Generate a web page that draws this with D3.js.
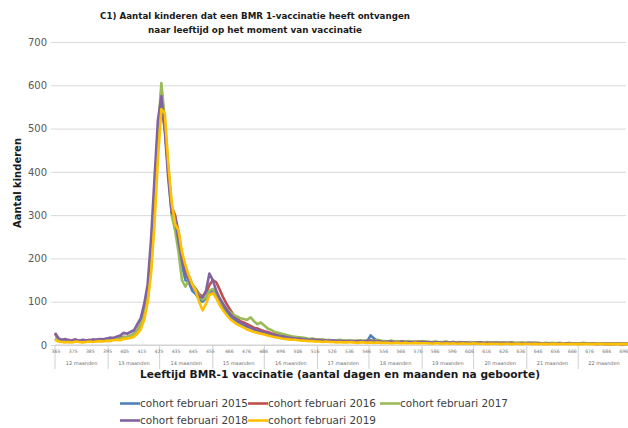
<!DOCTYPE html>
<html>
<head>
<meta charset="utf-8">
<script src="https://cdn.jsdelivr.net/npm/d3@7"></script>
<style>
  body { margin: 0; background: #fff; }
  svg { display: block; }
  text { font-family: Verdana, "DejaVu Sans", sans-serif; }
</style>
</head>
<body>
<div class="canvas"></div>
<script>
// days since birth, every 2 days (365 .. 699)
const days = d3.range(365, 700, 2);

const cohort2015 = [
  14, 10, 8, 9, 7, 8, 10, 9, 8, 10, 9, 11,
  10, 12, 11, 13, 12, 14, 15, 17, 16, 18, 20, 24,
  32, 45, 68, 105, 180, 310, 470, 592, 510, 400, 310, 270,
  230, 185, 150, 145, 125, 118, 105, 100, 108, 120, 125, 110,
  98, 85, 75, 66, 58, 55, 50, 46, 42, 40, 36, 33,
  31, 28, 26, 25, 22, 20, 19, 18, 16, 15, 15, 14,
  13, 12, 12, 11, 10, 11, 10, 9, 10, 9, 8, 9,
  8, 9, 8, 7, 8, 8, 10, 9, 22, 15, 9, 8,
  7, 8, 7, 7, 6, 7, 8, 6, 7, 6, 6, 7,
  6, 5, 6, 6, 5, 6, 7, 5, 5, 6, 5, 5,
  5, 6, 4, 5, 5, 4, 5, 6, 4, 5, 4, 4,
  5, 4, 4, 5, 3, 4, 4, 5, 4, 3, 4, 4,
  3, 4, 4, 3, 4, 3, 3, 4, 3, 3, 4, 3,
  3, 3, 4, 3, 2, 3, 3, 2, 3, 3, 2, 3
];
const cohort2016 = [
  26, 14, 11, 10, 12, 9, 8, 11, 10, 9, 12, 10,
  11, 13, 12, 12, 14, 16, 14, 17, 19, 18, 21, 26,
  35, 50, 72, 110, 190, 320, 480, 555, 500, 410, 320, 300,
  260, 210, 175, 160, 140, 130, 118, 112, 120, 138, 150, 145,
  128, 110, 95, 82, 70, 62, 55, 52, 48, 44, 40, 38,
  35, 32, 30, 27, 25, 23, 21, 20, 19, 17, 16, 15,
  15, 14, 13, 12, 13, 11, 12, 10, 11, 10, 9, 10,
  9, 10, 9, 8, 10, 9, 8, 9, 11, 9, 8, 9,
  8, 7, 9, 8, 7, 8, 7, 8, 6, 7, 8, 6,
  7, 6, 6, 7, 5, 6, 6, 5, 7, 5, 6, 5,
  5, 6, 5, 4, 6, 5, 4, 5, 5, 4, 5, 5,
  4, 5, 4, 4, 5, 3, 4, 4, 5, 4, 3, 4,
  4, 3, 4, 4, 3, 4, 3, 3, 4, 3, 4, 3,
  3, 4, 3, 3, 3, 2, 3, 3, 3, 2, 3, 3
];
const cohort2017 = [
  15, 11, 9, 8, 9, 10, 8, 9, 11, 8, 10, 9,
  12, 11, 13, 12, 13, 15, 16, 15, 18, 19, 22, 25,
  34, 48, 70, 108, 185, 315, 490, 605, 520, 405, 300, 265,
  215, 150, 135, 150, 140, 128, 115, 105, 110, 125, 130, 120,
  105, 92, 84, 76, 70, 66, 62, 60, 58, 64, 55, 48,
  52, 45, 38, 35, 30, 28, 26, 24, 22, 20, 19, 18,
  17, 16, 14, 15, 13, 12, 13, 11, 12, 10, 11, 12,
  10, 11, 9, 10, 9, 11, 10, 9, 10, 9, 12, 10,
  9, 8, 10, 8, 9, 7, 8, 9, 7, 8, 7, 9,
  8, 7, 7, 8, 6, 7, 8, 6, 7, 6, 7, 6,
  6, 7, 5, 6, 6, 5, 7, 5, 6, 5, 6, 5,
  5, 6, 5, 4, 6, 5, 5, 4, 5, 5, 4, 5,
  4, 5, 4, 5, 4, 4, 5, 3, 4, 4, 5, 4,
  4, 3, 4, 4, 3, 4, 3, 4, 3, 3, 4, 3
];
const cohort2018 = [
  28, 16, 12, 14, 10, 11, 13, 9, 12, 11, 10, 13,
  12, 14, 13, 15, 17, 16, 19, 22, 28, 26, 30, 34,
  48, 62, 95, 140, 245, 385, 520, 575, 495, 385, 305, 295,
  240, 195, 165, 150, 135, 125, 112, 110, 125, 165, 150, 125,
  108, 95, 82, 72, 64, 58, 52, 48, 44, 40, 37, 34,
  32, 29, 27, 25, 23, 21, 20, 19, 17, 16, 15, 15,
  14, 13, 12, 13, 11, 12, 10, 11, 10, 11, 9, 10,
  9, 8, 10, 9, 8, 9, 8, 10, 9, 8, 9, 8,
  7, 8, 8, 7, 6, 8, 7, 6, 7, 7, 6, 7,
  6, 7, 5, 6, 6, 5, 6, 5, 6, 5, 5, 6,
  5, 4, 5, 5, 6, 4, 5, 4, 5, 5, 4, 5,
  4, 5, 4, 3, 4, 4, 5, 4, 3, 4, 4, 3,
  4, 3, 3, 4, 3, 4, 3, 4, 3, 3, 3, 4,
  3, 3, 2, 3, 3, 3, 2, 3, 3, 2, 3, 2
];
const cohort2019 = [
  12, 8, 7, 6, 7, 6, 8, 7, 6, 7, 8, 7,
  8, 9, 8, 10, 9, 11, 12, 11, 14, 15, 16, 19,
  26, 36, 58, 98, 165, 280, 430, 545, 535, 420, 330, 280,
  265, 215, 185, 160, 140, 125, 100, 80, 95, 115, 120, 108,
  92, 80, 70, 60, 54, 48, 44, 40, 36, 33, 30, 28,
  26, 24, 22, 20, 18, 17, 15, 14, 13, 12, 12, 11,
  10, 10, 9, 9, 8, 8, 7, 8, 7, 7, 6, 7,
  6, 6, 7, 6, 5, 6, 6, 5, 6, 5, 6, 5,
  5, 5, 4, 5, 5, 4, 5, 4, 4, 5, 4, 4,
  4, 4, 3, 4, 4, 3, 4, 3, 4, 3, 3, 4,
  3, 3, 4, 3, 3, 3, 2, 3, 3, 3, 2, 3,
  3, 2, 3, 3, 2, 3, 3, 2, 3, 2, 3, 2,
  2, 3, 2, 2, 3, 2, 2, 3, 2, 2, 2, 3,
  2, 2, 2, 3, 2, 2, 2, 2, 2, 2, 2, 2
];

const seriesNames = ["cohort februari 2015", "cohort februari 2016", "cohort februari 2017",
                     "cohort februari 2018", "cohort februari 2019"];
const seriesValues = [cohort2015, cohort2016, cohort2017, cohort2018, cohort2019];
const colors = ["#4f81bd", "#c0504d", "#9bbb59", "#8064a2", "#ffc000"];

const yTicks = [0, 100, 200, 300, 400, 500, 600, 700];
const tickDays = [365, 375, 385, 395, 405, 415, 425, 435, 445, 455, 466, 476, 486, 496, 506, 516,
                  526, 536, 546, 556, 566, 576, 586, 596, 606, 616, 626, 636, 646, 656, 666,
                  676, 686, 696];
const monthStarts = [365, 396, 426, 457, 487, 518, 548, 579, 609, 640, 670, 700];
const monthLabels = ["12 maanden", "13 maanden", "14 maanden", "15 maanden", "16 maanden",
                     "17 maanden", "18 maanden", "19 maanden", "20 maanden", "21 maanden",
                     "22 maanden"];

const width = 628, height = 428;
const margin = { left: 55, right: 0, top: 42, bottom: 83 };

const svg = d3.select(".canvas").append("svg")
  .attr("width", width)
  .attr("height", height);

const x = d3.scaleLinear().domain([365, 699]).range([margin.left, width - margin.right]);
const y = d3.scaleLinear().domain([0, 700]).range([height - margin.bottom, margin.top]);

// title
const title = svg.append("g").attr("font-weight", "bold").attr("font-size", 9.5)
  .attr("fill", "#1a1a1a").attr("text-anchor", "middle");
title.append("text").attr("x", 255).attr("y", 19)
  .attr("textLength", 310).attr("lengthAdjust", "spacingAndGlyphs")
  .text("C1) Aantal kinderen dat een BMR 1-vaccinatie heeft ontvangen");
title.append("text").attr("x", 255).attr("y", 33)
  .attr("textLength", 214).attr("lengthAdjust", "spacingAndGlyphs")
  .text("naar leeftijd op het moment van vaccinatie");

// gridlines + y labels
const yAxis = d3.axisLeft(y).tickValues(yTicks).tickSize(-(width - margin.left - margin.right - 2))
  .tickPadding(8);
const yAxisGroup = svg.append("g").attr("transform", `translate(${margin.left},0)`).call(yAxis);
yAxisGroup.select(".domain").remove();
yAxisGroup.selectAll(".tick line").attr("stroke", "#d9d9d9").attr("x1", -4);
yAxisGroup.selectAll(".tick text").attr("fill", "#595959").attr("font-size", 10)
  .attr("font-family", "Verdana, 'DejaVu Sans', sans-serif");

svg.append("text")
  .attr("transform", `translate(21,183) rotate(-90)`)
  .attr("text-anchor", "middle").attr("font-weight", "bold").attr("font-size", 10)
  .attr("fill", "#1a1a1a")
  .text("Aantal kinderen");

// category axis: day ticks and month groups
const catAxis = svg.append("g");
catAxis.append("line")
  .attr("x1", margin.left).attr("x2", width)
  .attr("y1", y(0)).attr("y2", y(0))
  .attr("stroke", "#d0d0d0");
catAxis.selectAll(".month-line").data(monthStarts).join("line")
  .attr("class", "month-line")
  .attr("x1", (d) => x(d)).attr("x2", (d) => x(d))
  .attr("y1", y(0)).attr("y2", y(0) + 24)
  .attr("stroke", "#d0d0d0");
catAxis.selectAll(".day-label").data(tickDays).join("text")
  .attr("class", "day-label")
  .attr("x", (d) => x(d) + 1).attr("y", y(0) + 8)
  .attr("text-anchor", "middle").attr("font-size", 4.6).attr("fill", "#707070")
  .text((d) => d);
catAxis.selectAll(".month-label").data(monthLabels).join("text")
  .attr("class", "month-label")
  .attr("x", (d, i) => (x(monthStarts[i]) + x(monthStarts[i + 1])) / 2)
  .attr("y", y(0) + 20)
  .attr("text-anchor", "middle").attr("font-size", 5).attr("fill", "#707070")
  .text((d) => d);

svg.append("text")
  .attr("x", 340).attr("y", 378)
  .attr("text-anchor", "middle").attr("font-weight", "bold").attr("font-size", 11)
  .attr("textLength", 400).attr("lengthAdjust", "spacingAndGlyphs")
  .attr("fill", "#1a1a1a")
  .text("Leeftijd BMR-1 vaccinatie  (aantal dagen en maanden na geboorte)");

// lines
const lineGen = d3.line()
  .x((d, i) => x(days[i]))
  .y((d) => y(d));

svg.append("g").selectAll("path").data(seriesValues).join("path")
  .attr("d", lineGen)
  .attr("fill", "none")
  .attr("stroke", (d, i) => colors[i])
  .attr("stroke-width", 2.6)
  .attr("stroke-linejoin", "round");

// legend
const legendPos = [[120, 407], [248, 407], [380, 407], [120, 424], [248, 424]];
const legend = svg.append("g").selectAll("g").data(seriesNames).join("g")
  .attr("transform", (d, i) => `translate(${legendPos[i][0]},${legendPos[i][1]})`);
legend.append("line")
  .attr("x1", 0).attr("x2", 20).attr("y1", -3.5).attr("y2", -3.5)
  .attr("stroke", (d, i) => colors[i]).attr("stroke-width", 2.6);
legend.append("text")
  .attr("x", 20).attr("font-size", 10).attr("fill", "#404040")
  .attr("textLength", 108).attr("lengthAdjust", "spacingAndGlyphs")
  .text((d) => d);
</script>
</body>
</html>
